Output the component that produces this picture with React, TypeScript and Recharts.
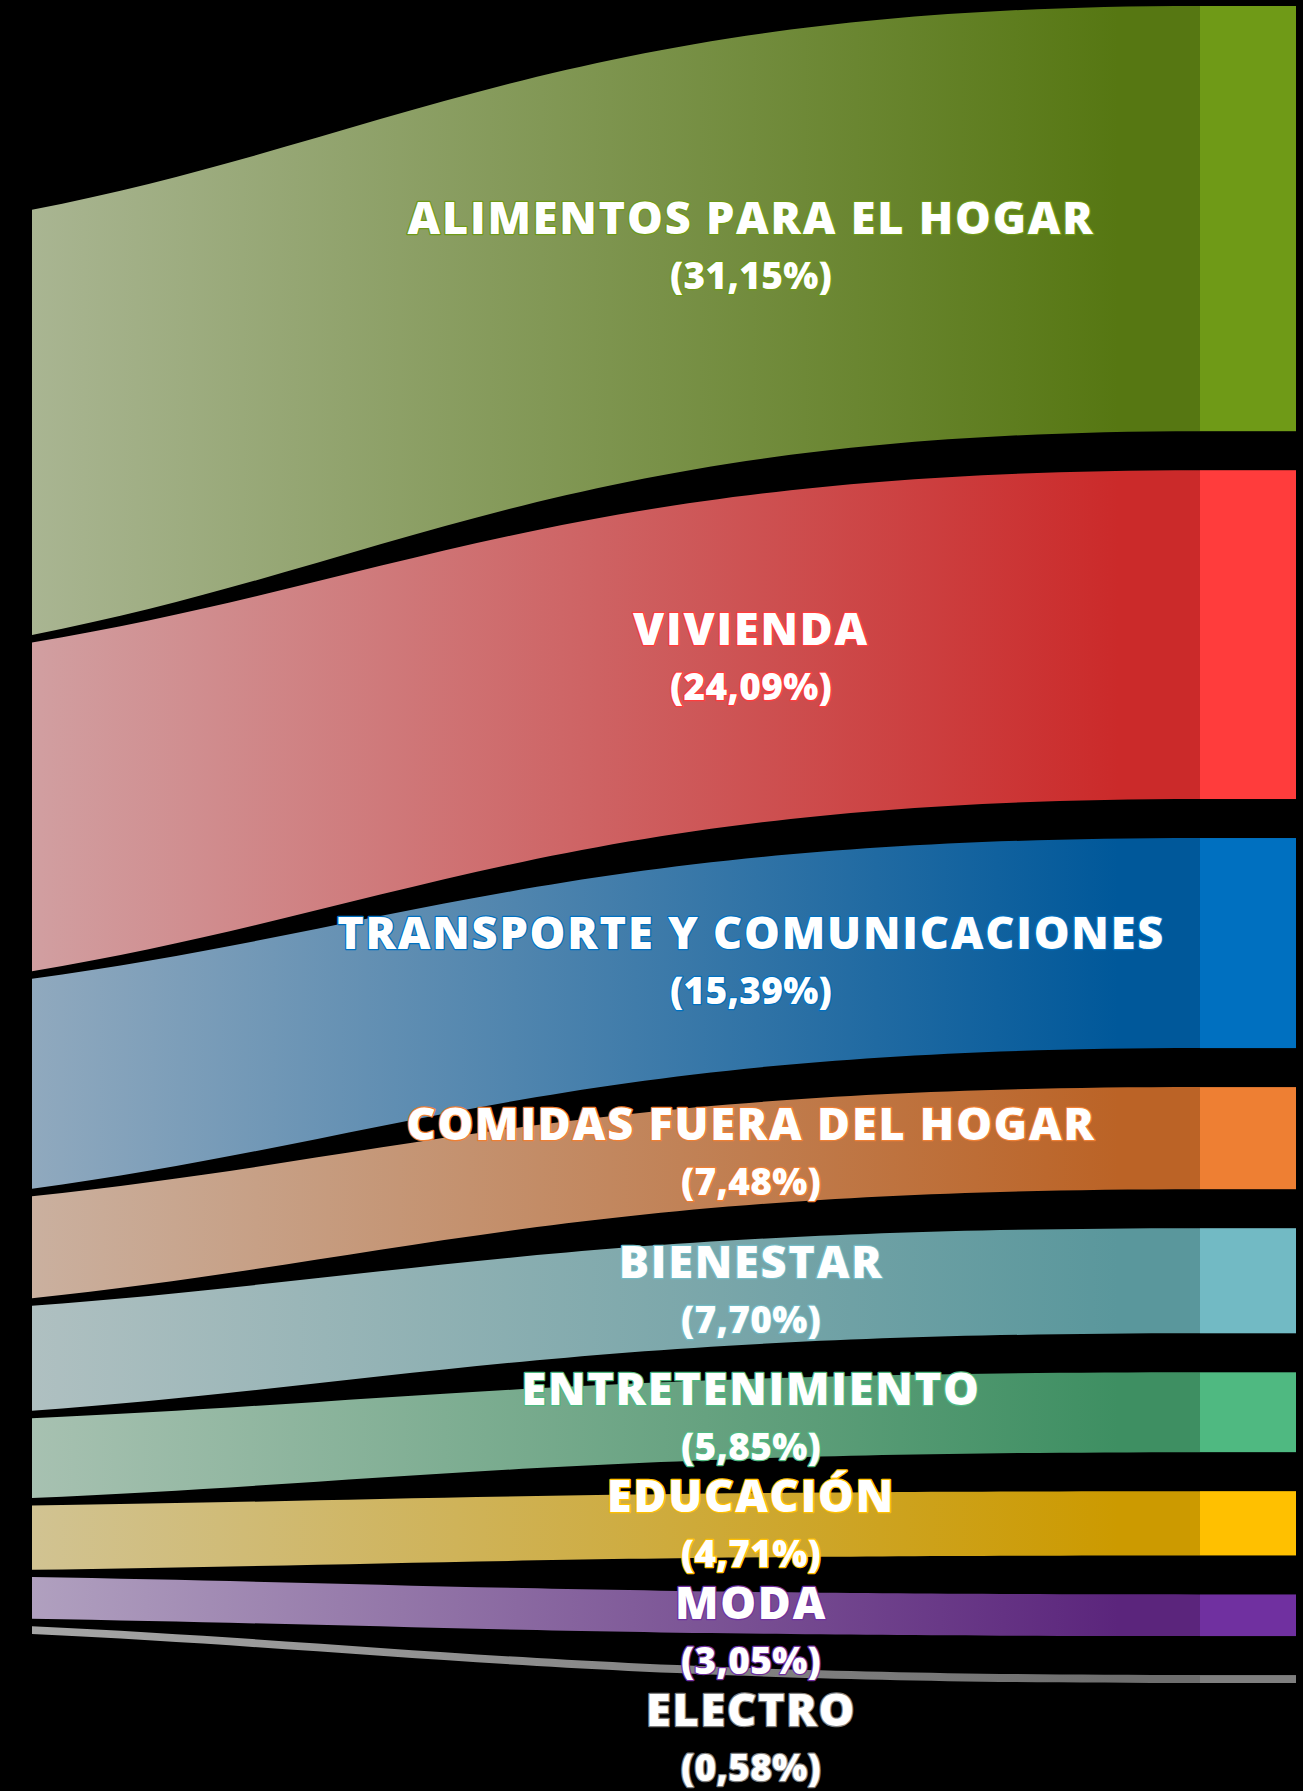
import React from 'react';
import { Sankey } from 'recharts';

const categories = [
  'ALIMENTOS PARA EL HOGAR',
  'VIVIENDA',
  'TRANSPORTE Y COMUNICACIONES',
  'COMIDAS FUERA DEL HOGAR',
  'BIENESTAR',
  'ENTRETENIMIENTO',
  'EDUCACIÓN',
  'MODA',
  'ELECTRO',
];
const shares = [31.15, 24.09, 15.39, 7.48, 7.7, 5.85, 4.71, 3.05, 0.58];

const nodeColors = ['#6f9a17', '#ff3c3c', '#0070c0', '#ee7f33', '#72bac4', '#4fb981', '#ffc000', '#7030a0', '#7f7f7f'];
const lightColors = ['#a9b592', '#d19fa1', '#90a9be', '#cab09f', '#afc0c1', '#a7c1b1', '#d1c392', '#b0a0bf', '#a6a6a6'];
const darkColors = ['#567712', '#cb2a2a', '#00589a', '#bb6326', '#5a979c', '#3e8f62', '#cc9a00', '#5b257c', '#6e6e6e'];

const SPACER = '';
const SOURCE = 'TOTAL';

const nodes = [{ name: SPACER }, { name: SOURCE }, ...categories.map((name) => ({ name }))];
const links = [
  { source: 0, target: 2, value: 0.000001 },
  ...shares.map((value, i) => ({ source: 1, target: i + 2, value })),
];
const data = { nodes, links };

const W = 1271;
const H = 1791;
const LABEL_T = 0.788;
const LABEL_GAP = 107;

const labelAnchors: Record<number, { x: number; y: number }> = {};
const placedLabels: Record<number, number> = {};

const bez = (p0: number, p1: number, p2: number, p3: number, t: number) => {
  const u = 1 - t;
  return u * u * u * p0 + 3 * u * u * t * p1 + 3 * u * t * t * p2 + t * t * t * p3;
};

const fmt = (v: number) => `(${v.toFixed(2).replace('.', ',')}%)`;

function LinkShape(props: any) {
  const { sourceX, targetX, sourceY, targetY, sourceControlX, targetControlX, linkWidth, index } = props;
  const cat = index - 1;
  if (cat < 0) return <g />;
  const h = linkWidth / 2;
  const d =
    `M${sourceX},${sourceY - h} C${sourceControlX},${sourceY - h} ${targetControlX},${targetY - h} ${targetX},${targetY - h} ` +
    `L${targetX},${targetY + h} C${targetControlX},${targetY + h} ${sourceControlX},${sourceY + h} ${sourceX},${sourceY + h} Z`;
  labelAnchors[cat] = {
    x: bez(sourceX, sourceControlX, targetControlX, targetX, LABEL_T),
    y: bez(sourceY, sourceY, targetY, targetY, LABEL_T),
  };
  const id = `lg${cat}`;
  return (
    <g>
      <defs>
        <linearGradient id={id} gradientUnits="userSpaceOnUse" x1={0} y1={0} x2={targetX} y2={0}>
          <stop offset="0" stopColor={lightColors[cat]} />
          <stop offset="0.93" stopColor={darkColors[cat]} />
          <stop offset="1" stopColor={darkColors[cat]} />
        </linearGradient>
      </defs>
      <path d={d} fill={`url(#${id})`} stroke="none" />
    </g>
  );
}

function NodeShape(props: any) {
  const { x, y, width, height, index } = props;
  const cat = index - 2;
  if (cat < 0) return <g />;
  const a = labelAnchors[cat];
  let cy = a ? a.y : y + height / 2;
  const prev = placedLabels[cat - 1];
  if (cat > 0 && prev !== undefined) cy = Math.max(cy, prev + LABEL_GAP);
  placedLabels[cat] = cy;
  const lx = a ? a.x : x - 449;
  const textStyle = {
    fontFamily: "'Open Sans', 'DejaVu Sans', sans-serif",
    fontWeight: 800,
    fill: '#ffffff',
    stroke: nodeColors[cat],
    strokeWidth: 2.5,
    paintOrder: 'stroke' as const,
    strokeLinejoin: 'round' as const,
  };
  return (
    <g>
      <rect x={x} y={y} width={width} height={height} fill={nodeColors[cat]} />
      <text x={lx} y={cy - 14} textAnchor="middle" fontSize={45} letterSpacing={1.8} style={textStyle}>
        {categories[cat]}
      </text>
      <text x={lx} y={cy + 41} textAnchor="middle" fontSize={37} letterSpacing={0.3} style={textStyle}>
        {fmt(shares[cat])}
      </text>
    </g>
  );
}

export default function App() {
  return (
    <div style={{ position: 'absolute', left: 0, top: 0, width: 1303, height: 1791, background: '#000', overflow: 'hidden' }}>
      <div style={{ position: 'absolute', left: 32, top: 0, width: W, height: H, overflow: 'hidden' }}>
        <Sankey
          width={W}
          height={H}
          data={data}
          nodeWidth={96}
          nodePadding={39}
          linkCurvature={0.5}
          iterations={32}
          sort={false}
          margin={{ top: 6, right: 7, bottom: 108, left: -654 }}
          node={NodeShape}
          link={LinkShape}
        />
      </div>
    </div>
  );
}
